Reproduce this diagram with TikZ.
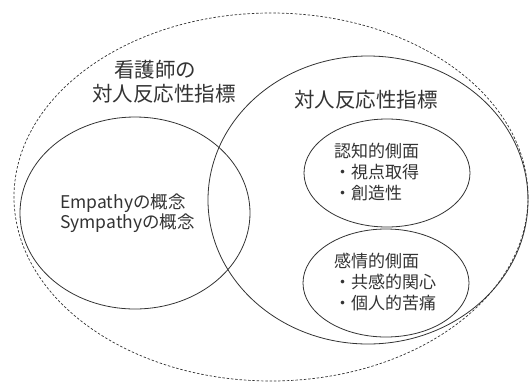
\documentclass[tikz,border=0pt]{standalone}
\usepackage{fontspec}
\newfontfamily\jp{Noto Sans CJK JP}
\usetikzlibrary{shapes.geometric}
\definecolor{ink}{HTML}{333333}
\begin{document}
\begin{tikzpicture}[x=1pt,y=1pt,
  oval/.style={ellipse, draw=ink, line width=0.8pt, inner sep=0pt},
  outer/.style={ellipse, draw=ink, line width=0.7pt, dash pattern=on 2.5pt off 1.8pt, inner sep=0pt},
  lbl/.style={text=ink, inner sep=0pt, align=left, font=\jp}]
\useasboundingbox (0,0) rectangle (531,-384);
\node[outer, minimum width=514, minimum height=368] (all) at (271,-197) {};
\node[oval, minimum width=320, minimum height=288] (idx) at (368,-200) {};
\node[oval, minimum width=230, minimum height=192] (emp) at (135,-213) {};
\node[oval, minimum width=166, minimum height=108] (cog) at (387,-173) {};
\node[oval, minimum width=166, minimum height=108] (aff) at (386,-283) {};
\node[lbl, anchor=west, font=\jp\fontsize{20.5}{24}\selectfont] (title) at (92,-82)
  {\hspace*{22pt}看護師の\\対人反応性指標};
\node[lbl, anchor=west, font=\jp\fontsize{20.5}{24}\selectfont] (idxt) at (294,-100) {対人反応性指標};
\node[lbl, anchor=west, font=\jp\fontsize{17}{21}\selectfont] (cogt) at (334,-172) {認知的側面\\・視点取得\\・創造性};
\node[lbl, anchor=west, font=\jp\fontsize{17}{21}\selectfont] (afft) at (334,-282) {感情的側面\\・共感的関心\\・個人的苦痛};
\node[lbl, anchor=west, font=\jp\fontsize{17.5}{20}\selectfont] (empt) at (60,-213) {Empathyの概念\\Sympathyの概念};
\end{tikzpicture}
\end{document}
